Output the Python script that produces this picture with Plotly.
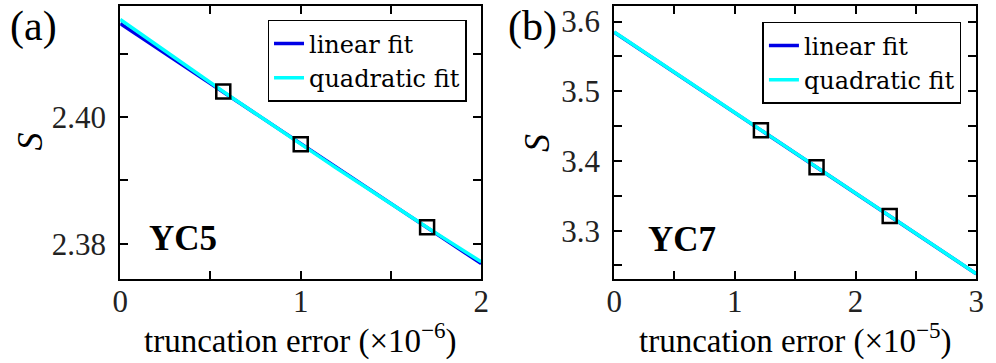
import numpy as np
import plotly.graph_objects as go

# (a) YC5, truncation error in units of 1e-6
yc5_err = [0.571, 1.0, 1.70]
yc5_s = [2.4040, 2.3957, 2.3826]

# (b) YC7, truncation error in units of 1e-5
yc7_err = [1.216, 1.677, 2.283]
yc7_s = [3.4442, 3.3909, 3.3209]

SERIF = "Liberation Serif"
BLUE = "#0000e6"
CYAN = "#00ffff"


def fits(x, y, xmax):
    xs = np.linspace(0, xmax, 60)
    lin = np.polyval(np.polyfit(x, y, 1), xs)
    quad = np.polyval(np.polyfit(x, y, 2), xs)
    return xs, lin, quad


fig = go.Figure()

panels = [
    dict(x=yc5_err, y=yc5_s, xmax=2, xa="x", ya="y", legend="legend"),
    dict(x=yc7_err, y=yc7_s, xmax=3, xa="x2", ya="y2", legend="legend2"),
]
for p in panels:
    xs, lin, quad = fits(p["x"], p["y"], p["xmax"])
    fig.add_trace(go.Scatter(x=xs, y=lin, mode="lines", name="linear fit",
                             line=dict(color=BLUE, width=3.5),
                             xaxis=p["xa"], yaxis=p["ya"], legend=p["legend"]))
    fig.add_trace(go.Scatter(x=xs, y=quad, mode="lines", name="quadratic fit",
                             line=dict(color=CYAN, width=3.5),
                             xaxis=p["xa"], yaxis=p["ya"], legend=p["legend"]))
    fig.add_trace(go.Scatter(x=p["x"], y=p["y"], mode="markers", showlegend=False,
                             marker=dict(symbol="square-open", size=14, color="black",
                                         line=dict(width=2.5, color="black")),
                             xaxis=p["xa"], yaxis=p["ya"]))

axis_common = dict(
    showline=True, linecolor="black", linewidth=2, mirror="allticks",
    ticks="inside", ticklen=8, tickwidth=1.5, tickcolor="black",
    showgrid=False, zeroline=False,
    tickfont=dict(family=SERIF, size=31, color="#222"),
)
minor_common = dict(ticks="inside", ticklen=8, tickwidth=1.5, tickcolor="black", showgrid=False)
legend_common = dict(xanchor="right", yanchor="top", bgcolor="white",
                     bordercolor="black", borderwidth=1.5,
                     font=dict(family="DejaVu Serif", size=24, color="black"))

fig.update_layout(
    width=996, height=363,
    margin=dict(l=0, r=0, t=0, b=0),
    paper_bgcolor="white", plot_bgcolor="white",
    xaxis=dict(domain=[0.1145, 0.4829], range=[0, 2], dtick=1, ticklabelstandoff=-6,
               minor=dict(dtick=0.5, **minor_common), anchor="y", **axis_common),
    yaxis=dict(domain=[0.2328, 0.9862], range=[2.3745, 2.4175], tick0=2.38, dtick=0.02,
               tickformat=".2f", minor=dict(tick0=2.38, dtick=0.01, **minor_common),
               anchor="x", ticklabelstandoff=6, **axis_common),
    xaxis2=dict(domain=[0.6185, 0.988], range=[0, 3], dtick=1, ticklabelstandoff=-6,
                minor=dict(dtick=0.5, **minor_common), anchor="y2", **axis_common),
    yaxis2=dict(domain=[0.2328, 0.9862], range=[3.231, 3.6224], tick0=3.3, dtick=0.1,
                tickformat=".1f", minor=dict(tick0=3.3, dtick=0.05, **minor_common),
                anchor="x2", ticklabelstandoff=6, **axis_common),
    legend=dict(x=466 / 996, y=1 - 19 / 363, **legend_common),
    legend2=dict(x=969 / 996, y=1 - 21 / 363, **legend_common),
)

title_font = dict(family=SERIF, size=33, color="black")
s_font = dict(family=SERIF, size=36, color="black")
annotations = [
    dict(text="truncation error (×10<sup>−6</sup>)", x=297 / 996, y=1 - 338 / 363,
         xanchor="center", font=title_font),
    dict(text="truncation error (×10<sup>−5</sup>)", x=800 / 996, y=1 - 338 / 363,
         xanchor="center", font=title_font),
    dict(text="<i>S</i>", x=0, y=1 - 141 / 363, textangle=-90, xanchor="left", font=s_font),
    dict(text="<i>S</i>", x=537 / 996, y=1 - 142 / 363, textangle=-90, xanchor="center",
         font=s_font),
]
for a in annotations:
    fig.add_annotation(xref="paper", yref="paper", showarrow=False, yanchor="middle", **a)

label_font = dict(family=SERIF, size=42, color="black")
fig.add_annotation(text="(a)", xref="paper", yref="paper", x=0, y=1,
                   xanchor="left", yanchor="top", showarrow=False, font=label_font)
fig.add_annotation(text="(b)", xref="paper", yref="paper", x=506 / 996, y=1,
                   xanchor="left", yanchor="top", showarrow=False, font=label_font)

yc_font = dict(family=SERIF, size=35, color="black")
fig.add_annotation(text="<b>YC5</b>", x=0.35, y=2.3808, xref="x", yref="y",
                   showarrow=False, font=yc_font)
fig.add_annotation(text="<b>YC7</b>", x=0.566, y=3.2867, xref="x2", yref="y2",
                   showarrow=False, font=yc_font)

fig.write_html("out.html", config={"displayModeBar": False},
               post_script="document.body.style.margin='0';")
